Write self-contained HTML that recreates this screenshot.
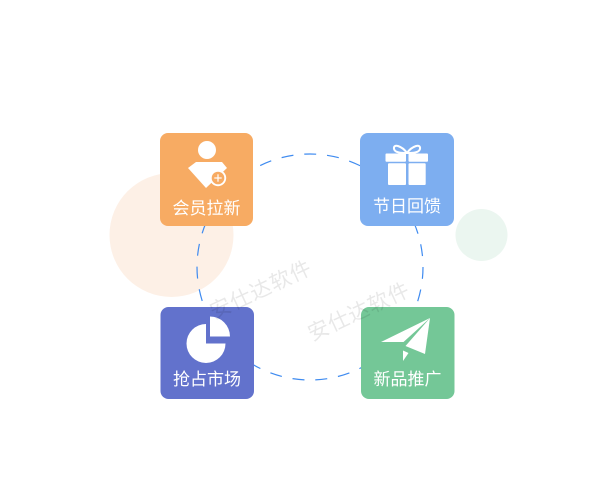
<!DOCTYPE html>
<html>
<head>
<meta charset="utf-8">
<style>
  html,body{margin:0;padding:0;background:#fff;}
  body{width:601px;height:500px;overflow:hidden;}
  svg{display:block;}
  .lbl{font-family:"Liberation Sans","Noto Sans CJK SC",sans-serif;font-size:17px;fill:#fff;text-anchor:middle;}
  .wm{font-family:"Liberation Sans","Noto Sans CJK SC",sans-serif;font-size:21px;fill:#000;fill-opacity:0.09;text-anchor:middle;letter-spacing:1px;}
</style>
</head>
<body>
<svg width="601" height="500" viewBox="0 0 601 500" xmlns="http://www.w3.org/2000/svg">
  <rect width="601" height="500" fill="#ffffff"/>
  <!-- pale circles -->
  <circle cx="171.5" cy="235" r="62" fill="#FDF0E6"/>
  <circle cx="481.5" cy="235" r="26" fill="#EBF6F0"/>
  <!-- dashed ring -->
  <circle cx="310" cy="267" r="113" fill="none" stroke="#3F8BF0" stroke-width="1.2" stroke-dasharray="12 10.9" stroke-dashoffset="0.2"/>

  <!-- card 1 orange -->
  <rect x="160" y="133" width="93" height="93" rx="8" fill="#F7AB63"/>
  <circle cx="207" cy="150" r="9" fill="#fff"/>
  <polygon points="188,168 196,162 222,162 227,168 206,188" fill="#fff"/>
  <circle cx="218" cy="178" r="8.2" fill="#fff"/>
  <circle cx="218" cy="178" r="6.3" fill="#F7AB63"/>
  <line x1="214.3" y1="178" x2="221.7" y2="178" stroke="#fff" stroke-width="1.2"/>
  <line x1="218" y1="174.3" x2="218" y2="181.7" stroke="#fff" stroke-width="1.2"/>
  <text class="lbl" x="206.5" y="214">会员拉新</text>

  <!-- card 2 blue -->
  <rect x="360" y="133" width="94" height="93" rx="8" fill="#7DAEF0"/>
  <path d="M407,153 C402,146 393,143 394,149 C395,153 402,153 407,153 Z" fill="none" stroke="#fff" stroke-width="2"/>
  <path d="M407,153 C412,146 421,143 420,149 C419,153 412,153 407,153 Z" fill="none" stroke="#fff" stroke-width="2"/>
  <rect x="385.5" y="153.5" width="20.5" height="8.2" rx="1" fill="#fff"/>
  <rect x="408.5" y="153.5" width="19.5" height="8.2" rx="1" fill="#fff"/>
  <rect x="388" y="163.3" width="18" height="21.7" rx="1" fill="#fff"/>
  <rect x="408.5" y="163.3" width="17.2" height="21.7" rx="1" fill="#fff"/>
  <text class="lbl" x="407" y="212">节日回馈</text>

  <!-- card 3 purple -->
  <rect x="160.5" y="307" width="93.5" height="92" rx="8" fill="#6272CC"/>
  <path d="M206,343.5 L206,324 A19.5,19.5 0 1 0 225.5,343.5 Z" fill="#fff"/>
  <path d="M210,336.5 L210,316.5 A20,20 0 0 1 230,336.5 Z" fill="#fff"/>
  <text class="lbl" x="207" y="385">抢占市场</text>

  <!-- card 4 green -->
  <rect x="361" y="307" width="93.5" height="92" rx="8" fill="#74C797"/>
  <polygon points="381,342 430,318 403.5,342" fill="#fff"/>
  <polygon points="430,318 425,354 405.5,346" fill="#fff"/>
  <polygon points="403,350.5 408.5,353 403,361" fill="#fff"/>
  <text class="lbl" x="407.5" y="385">新品推广</text>

  <!-- watermarks -->
  <text class="wm" transform="translate(264,296) rotate(-25)">安仕达软件</text>
  <text class="wm" transform="translate(362,318) rotate(-25)">安仕达软件</text>
</svg>
</body>
</html>
